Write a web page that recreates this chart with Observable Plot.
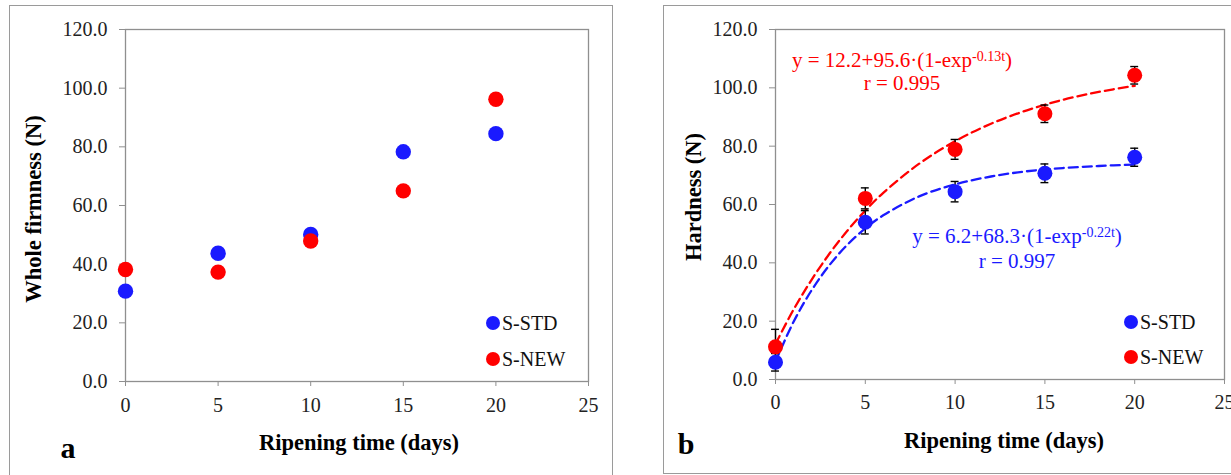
<!DOCTYPE html>
<html><head><meta charset="utf-8">
<script src="https://cdn.jsdelivr.net/npm/d3@7"></script>
<script src="https://cdn.jsdelivr.net/npm/@observablehq/plot@0.6"></script>
<style>
body{margin:0;background:#fff;}
#root, #root div, #root span, #root svg, #root text{font-family:"Liberation Serif", "Times New Roman", Times, serif;}
#root{position:relative;width:1231px;height:475px;overflow:hidden;color:#000;background:#fff;}
.frame{position:absolute;border:1.5px solid #9a9a9a;box-sizing:border-box;}
.ytitle{position:absolute;font-weight:bold;font-size:22.5px;white-space:nowrap;line-height:24px;transform:translate(-50%,-50%) rotate(-90deg);}
.xtitle{position:absolute;font-weight:bold;font-size:22.5px;white-space:nowrap;line-height:24px;transform:translate(-50%,-50%);}
.tag{position:absolute;font-weight:bold;font-size:30px;line-height:30px;transform:translate(-50%,-50%);}
.legt{position:absolute;font-size:20px;line-height:20px;white-space:nowrap;color:#111;}
.legc{position:absolute;width:14px;height:14px;border-radius:50%;transform:translate(-50%,-50%);}
.eq{position:absolute;font-size:21px;line-height:24px;white-space:nowrap;transform:translateX(-50%);}
.sup{font-size:14px;position:relative;top:-6px;}
.panel{position:absolute;top:0;}
</style>
</head>
<body>
<div id="root">
  <div class="frame" style="left:9px;top:5px;width:604px;height:490px;"></div>
  <div class="frame" style="left:663px;top:5px;width:600px;height:469px;"></div>
  <div class="panel" id="pa" style="left:0px;"></div>
  <div class="panel" id="pb" style="left:620px;"></div>

  <div class="ytitle" style="left:34px;top:209px;">Whole firmness (N)</div>
  <div class="xtitle" style="left:359px;top:443px;">Ripening time (days)</div>
  <div class="tag" style="left:68px;top:448px;">a</div>

  <div class="ytitle" style="left:694px;top:197px;">Hardness (N)</div>
  <div class="xtitle" style="left:1004px;top:441px;">Ripening time (days)</div>
  <div class="tag" style="left:686px;top:444px;">b</div>

  <div class="legc" style="left:493px;top:323px;background:#1a1aff;"></div>
  <div class="legt" style="left:502px;top:313px;">S-STD</div>
  <div class="legc" style="left:493px;top:359px;background:#ff0000;"></div>
  <div class="legt" style="left:502px;top:349px;">S-NEW</div>

  <div class="legc" style="left:1131px;top:322px;background:#1a1aff;"></div>
  <div class="legt" style="left:1140px;top:312px;">S-STD</div>
  <div class="legc" style="left:1131px;top:357px;background:#ff0000;"></div>
  <div class="legt" style="left:1140px;top:347px;">S-NEW</div>

  <div class="eq" style="left:902px;top:48px;color:#ff0000;">y = 12.2+95.6·(1-exp<span class="sup">-0.13t</span>)</div>
  <div class="eq" style="left:902px;top:71px;color:#ff0000;">r = 0.995</div>
  <div class="eq" style="left:1017px;top:224px;color:#1a1aff;">y = 6.2+68.3·(1-exp<span class="sup">-0.22t</span>)</div>
  <div class="eq" style="left:1017px;top:249px;color:#1a1aff;">r = 0.997</div>
</div>
<script>
// ---- data ----
const days = [0, 5, 10, 15, 20];
const firmSTD = [30.8, 43.7, 50.1, 78.3, 84.5];
const firmNEW = [38.2, 37.3, 47.9, 65.0, 96.2];
const hardSTD = [5.9, 53.9, 64.4, 70.7, 76.2];
const hardNEW = [11.2, 62.1, 78.9, 91.1, 104.3];
const errSTD = [3.0, 4.0, 3.5, 3.2, 3.1];
const errNEW = [6.0, 3.6, 3.4, 3.0, 3.0];
const fitDays = [0, 1, 2, 3, 4, 5, 6, 8, 10, 12, 14, 16, 18, 20];
const fitSTD = [6.2, 19.7, 30.5, 39.2, 46.2, 51.8, 56.3, 62.8, 66.9, 69.6, 71.4, 72.5, 73.2, 73.7];
const fitNEW = [12.2, 23.9, 34.1, 43.1, 51.0, 57.9, 64.0, 74.0, 81.7, 87.7, 92.3, 95.9, 98.6, 100.7];
const xTicks = [0, 5, 10, 15, 20, 25];
const yTicks = [0, 20, 40, 60, 80, 100, 120];

const BLUE = "#1a1aff", RED = "#ff0000", AXIS = "#8f8f8f";
const FONT = '"Liberation Serif", "Times New Roman", Times, serif';
const rows = (vals, errs) => days.map((t, i) => ({t, v: vals[i], e: errs ? errs[i] : 0}));
const fitRows = (vals) => fitDays.map((t, i) => ({t, v: vals[i]}));

function axes(xPad) {
  return [
    Plot.frame({stroke: AXIS, strokeWidth: 1.3}),
    Plot.axisX({ticks: xTicks, tickSize: 5, tickPadding: xPad, stroke: AXIS, fill: "#222", fontSize: 20, fontFamily: FONT, label: null}),
    Plot.axisY({ticks: yTicks, tickSize: 6, tickPadding: 12, tickFormat: d3.format(".1f"), stroke: AXIS, fill: "#222", fontSize: 20, fontFamily: FONT, label: null})
  ];
}
function errBars(data) {
  return [
    Plot.ruleX(data, {x: "t", y1: d => d.v - d.e, y2: d => d.v + d.e, stroke: "#000", strokeWidth: 1.4}),
    Plot.ruleY(data, {y: d => d.v + d.e, x1: d => d.t - 0.22, x2: d => d.t + 0.22, stroke: "#000", strokeWidth: 1.4}),
    Plot.ruleY(data, {y: d => d.v - d.e, x1: d => d.t - 0.22, x2: d => d.t + 0.22, stroke: "#000", strokeWidth: 1.4})
  ];
}

const pa = Plot.plot({
  width: 615, height: 475,
  marginLeft: 125, marginRight: 27, marginTop: 29, marginBottom: 94,
  x: {domain: [0, 25]}, y: {domain: [0, 120]},
  style: {fontFamily: FONT, fontSize: "20px", background: "transparent", overflow: "visible"},
  marks: [
    ...axes(11),
    Plot.dot(rows(firmSTD), {x: "t", y: "v", r: 7.7, fill: BLUE}),
    Plot.dot(rows(firmNEW), {x: "t", y: "v", r: 7.7, fill: RED})
  ]
});
document.getElementById("pa").appendChild(pa);

const pb = Plot.plot({
  width: 611, height: 475,
  marginLeft: 155, marginRight: 7, marginTop: 29, marginBottom: 96,
  x: {domain: [0, 25]}, y: {domain: [0, 120]},
  style: {fontFamily: FONT, fontSize: "20px", background: "transparent", overflow: "visible"},
  marks: [
    ...axes(10),
    Plot.line(fitRows(fitNEW), {x: "t", y: "v", stroke: RED, strokeWidth: 2.3, strokeDasharray: "9,5", curve: "catmull-rom"}),
    Plot.line(fitRows(fitSTD), {x: "t", y: "v", stroke: BLUE, strokeWidth: 2.3, strokeDasharray: "9,5", curve: "catmull-rom"}),
    ...errBars(rows(hardNEW, errNEW)),
    ...errBars(rows(hardSTD, errSTD)),
    Plot.dot(rows(hardNEW, errNEW), {x: "t", y: "v", r: 7.5, fill: RED}),
    Plot.dot(rows(hardSTD, errSTD), {x: "t", y: "v", r: 7.5, fill: BLUE})
  ]
});
document.getElementById("pb").appendChild(pb);
</script>
</body></html>
